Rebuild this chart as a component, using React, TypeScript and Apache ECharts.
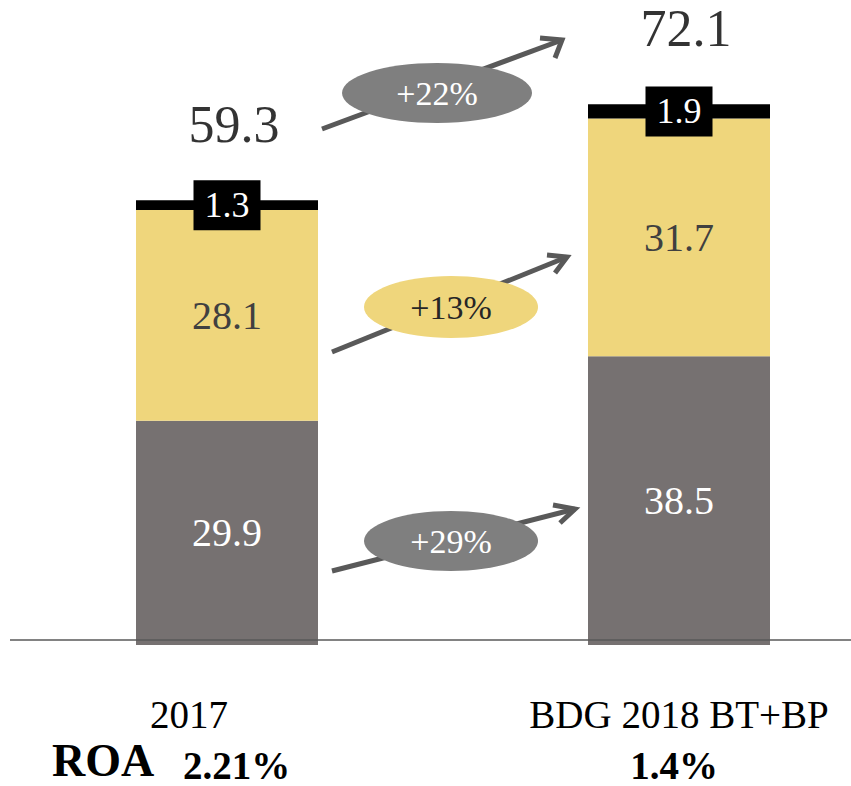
import React, { useEffect, useRef } from "react";
import * as echarts from "echarts";

const categories = ["2017", "BDG 2018 BT+BP"];
const greyValues = [29.9, 38.5];
const yellowValues = [28.1, 31.7];
const blackValues = [1.3, 1.9];
const totals = [59.3, 72.1];
const growthLabels = ["+22%", "+13%", "+29%"];
const roaValues = ["2.21%", "1.4%"];

const FONT = "'Liberation Serif', 'DejaVu Serif', serif";

export default function App() {
  const ref = useRef<HTMLDivElement>(null);
  useEffect(() => {
    if (!ref.current) return;
    const chart = echarts.init(ref.current, undefined, { renderer: "svg" });

    const arrow = (x1: number, y1: number, x2: number, y2: number, h1: number[], h2: number[]) => ({
      type: "group",
      z: 50,
      children: [
        { type: "line", shape: { x1, y1, x2, y2 }, style: { stroke: "#595959", lineWidth: 5, lineCap: "butt" } },
        {
          type: "polyline",
          shape: { points: [h1, [x2, y2], h2] },
          style: { stroke: "#595959", lineWidth: 5, fill: null, lineJoin: "miter", lineCap: "butt" },
        },
      ],
    });

    const bubble = (cx: number, cy: number, rx: number, ry: number, fill: string, textColor: string, text: string) => ({
      type: "group",
      z: 60,
      children: [
        { type: "ellipse", shape: { cx, cy, rx, ry }, style: { fill } },
        {
          type: "text",
          x: cx,
          y: cy,
          style: { text, fill: textColor, font: `34px ${FONT}`, align: "center", verticalAlign: "middle" },
        },
      ],
    });

    chart.setOption({
      animation: false,
      grid: { left: 227, right: 172, top: 45, bottom: 141, containLabel: false },
      xAxis: {
        type: "category",
        data: categories,
        boundaryGap: false,
        axisLine: { show: false },
        axisTick: { show: false },
        axisLabel: {
          interval: 0,
          hideOverlap: false,
          margin: 50,
          fontSize: 39,
          fontFamily: FONT,
          color: "#000",
          formatter: (v: string, i: number) => (i === 0 ? `{a|${v}}` : `{b|${v}}`),
          rich: {
            a: { fontSize: 39, fontFamily: FONT, color: "#000", padding: [0, 76, 0, 0] },
            b: { fontSize: 39, fontFamily: FONT, color: "#000" },
          },
        },
      },
      yAxis: { type: "value", min: 0, max: 80, show: false, splitLine: { show: false } },
      series: [
        {
          type: "bar",
          stack: "s",
          barWidth: 182,
          clip: false,
          data: greyValues,
          itemStyle: { color: "#767171" },
          label: { show: true, position: "inside", color: "#fff", fontSize: 40, fontFamily: FONT },
        },
        {
          type: "bar",
          stack: "s",
          barWidth: 182,
          clip: false,
          data: yellowValues,
          itemStyle: { color: "#EFD67C" },
          label: { show: true, position: "inside", color: "#404040", fontSize: 40, fontFamily: FONT },
        },
        {
          type: "bar",
          stack: "s",
          barWidth: 182,
          clip: false,
          data: blackValues,
          itemStyle: { color: "#000" },
          label: {
            show: true,
            position: "inside",
            color: "#fff",
            fontSize: 36,
            fontFamily: FONT,
            backgroundColor: "#000",
            padding: [7, 11],
            lineHeight: 36,
          },
        },
        {
          type: "scatter",
          clip: false,
          symbolSize: 0,
          data: totals,
          label: {
            show: true,
            position: "inside",
            offset: [7, -76],
            color: "#000",
            fontSize: 52,
            fontFamily: FONT,
          },
          z: 10,
        },
      ],
      graphic: [
        { type: "line", z: 40, shape: { x1: 10, y1: 640, x2: 851, y2: 640 }, style: { stroke: "#595959", lineWidth: 1.5 } },
        arrow(322, 129, 562, 40, [540, 38], [555, 58]),
        arrow(332, 352, 567, 257, [547, 255], [555, 273]),
        arrow(332, 571, 575, 509, [553, 505], [560, 523]),
        bubble(437, 93, 95, 30, "#7F7F7F", "#fff", growthLabels[0]),
        bubble(451, 307, 87, 31, "#EFD67C", "#262626", growthLabels[1]),
        bubble(451, 541, 87, 30, "#7F7F7F", "#fff", growthLabels[2]),
        {
          type: "text",
          x: 52,
          y: 760,
          style: { text: "ROA", font: `bold 46px ${FONT}`, fill: "#000", verticalAlign: "middle" },
        },
        {
          type: "text",
          x: 183,
          y: 765,
          style: { text: roaValues[0], font: `bold 39px ${FONT}`, fill: "#000", verticalAlign: "middle" },
        },
        {
          type: "text",
          x: 674,
          y: 765,
          style: { text: roaValues[1], font: `bold 39px ${FONT}`, fill: "#000", align: "center", verticalAlign: "middle" },
        },
      ],
    });
    return () => chart.dispose();
  }, []);
  return (
    <div
      ref={ref}
      style={{ position: "fixed", left: 0, top: 0, width: 851, height: 786, background: "#fff" }}
    />
  );
}
